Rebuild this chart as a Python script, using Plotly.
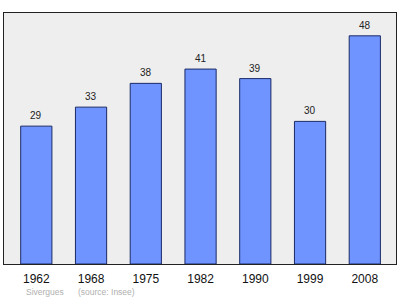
import plotly.graph_objects as go

years = ["1962", "1968", "1975", "1982", "1990", "1999", "2008"]
population = [29, 33, 38, 41, 39, 30, 48]
footer_place = "Sivergues"
footer_source = "(source: Insee)"

xs = list(range(len(years)))

fig = go.Figure()
fig.add_trace(go.Bar(
    x=xs, y=population, width=0.57,
    marker=dict(color="#7094ff", line=dict(color="#1a2a66", width=1)),
    hoverinfo="skip",
))

for x, v in zip(xs, population):
    fig.add_annotation(x=x, y=v, text=str(v), showarrow=False, yanchor="bottom",
                       yshift=3, font=dict(size=10, color="#222", family="Liberation Sans"))

fig.add_annotation(xref="paper", yref="paper", x=0.05, y=-0.112, xanchor="left", yanchor="middle",
                   text=footer_place + "&nbsp;&nbsp;&nbsp;&nbsp;&nbsp;&nbsp;" + footer_source, showarrow=False,
                   font=dict(size=8.5, color="#b0b0b0", family="Liberation Sans"))

fig.update_layout(
    width=400, height=299,
    margin=dict(l=4, r=4, t=13, b=35),
    paper_bgcolor="white", plot_bgcolor="#eeeeee",
    showlegend=False,
    xaxis=dict(range=[-0.59, 6.57], tickvals=xs, ticktext=years, showgrid=False, zeroline=False,
               showline=True, linecolor="#222", linewidth=1, mirror=True, ticks="",
               ticklabelstandoff=4,
               tickfont=dict(size=12, color="#111", family="Liberation Sans"), fixedrange=True),
    yaxis=dict(range=[0, 52.8], showticklabels=False, showgrid=False, zeroline=False,
               showline=True, linecolor="#222", linewidth=1, mirror=True, ticks="", fixedrange=True),
)

fig.write_html("out.html")
